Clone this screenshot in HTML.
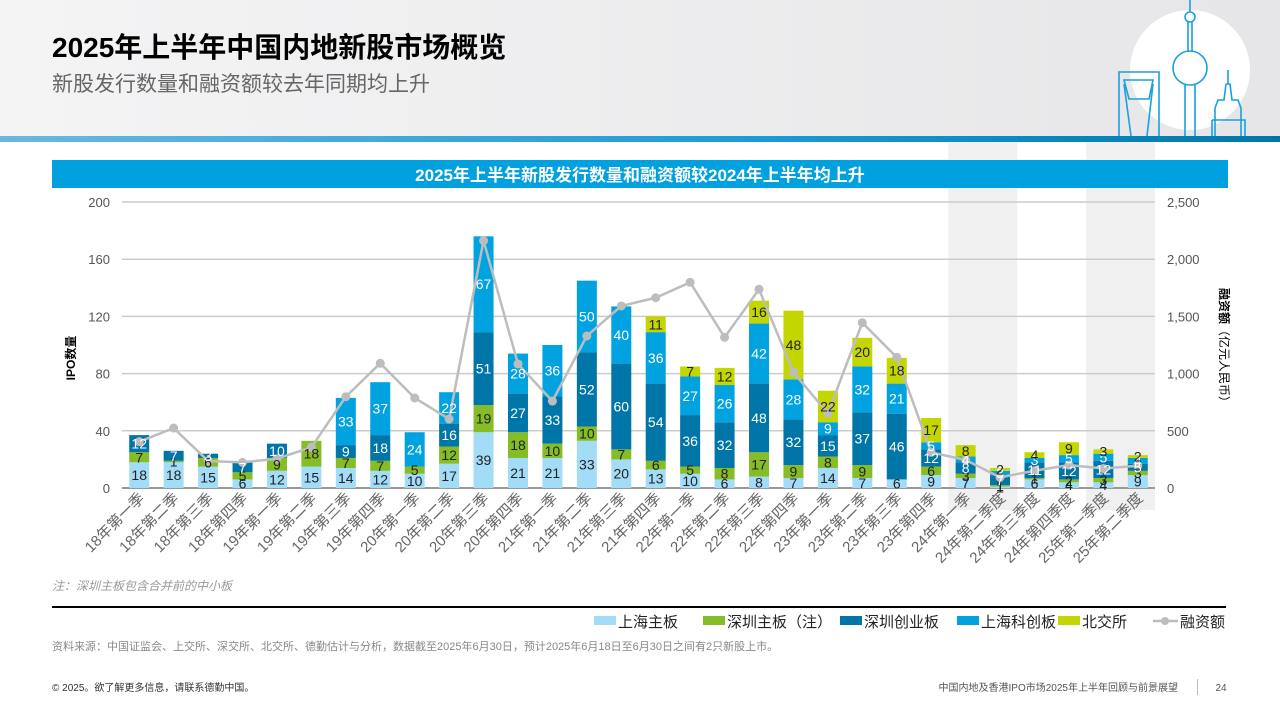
<!DOCTYPE html>
<html><head><meta charset="utf-8">
<style>
body{margin:0;width:1280px;height:720px;overflow:hidden;background:#fff;font-family:"Liberation Sans","Noto Sans CJK SC",sans-serif;}
svg text{font-family:"Liberation Sans","Noto Sans CJK SC",sans-serif;}
</style></head>
<body>
<svg id="c" width="1280" height="720" viewBox="0 0 1280 720" xmlns="http://www.w3.org/2000/svg">
<defs>
<linearGradient id="hdr" x1="0" x2="1"><stop offset="0" stop-color="#f4f4f5"/><stop offset="1" stop-color="#e6e6e8"/></linearGradient>
<linearGradient id="bl" x1="0" x2="1"><stop offset="0" stop-color="#6cb7e0"/><stop offset="0.6" stop-color="#1a9ad6"/><stop offset="1" stop-color="#0077aa"/></linearGradient>
</defs>
<rect x="0" y="0" width="1280" height="136" fill="url(#hdr)"/>
<circle cx="1190" cy="70" r="60" fill="#fff"/>
<g stroke="#1aa0dc" stroke-width="1.6" fill="none">
<path d="M1119 136 V72 H1159 V136 M1124 80 H1153 L1149 99 H1129 Z M1124 84 L1131 136 M1153 84 L1147 136"/>
<circle cx="1190" cy="17" r="5"/><line x1="1190" y1="0" x2="1190" y2="12"/><line x1="1188" y1="22" x2="1188" y2="52"/><line x1="1192" y1="22" x2="1192" y2="52"/>
<circle cx="1190" cy="68" r="17"/><path d="M1185 85 V136 M1195 85 V136"/>
<path d="M1228 70 V84 M1226 84 H1230 L1232 100 H1238 L1241 108 V136 M1226 84 L1224 100 H1218 L1215 108 V136 M1212 120 H1245 V136 M1212 120 V136"/>
</g>
<rect x="0" y="136" width="1280" height="6" fill="url(#bl)"/>
<text x="52" y="57" font-size="28" font-weight="bold" fill="#000">2025年上半年中国内地新股市场概览</text>
<text x="52" y="91" font-size="21" fill="#666">新股发行数量和融资额较去年同期均上升</text>
<g id="bands"></g>
<rect x="52" y="160" width="1176" height="28" fill="#00a1de"/>
<text x="640" y="181" font-size="17" font-weight="bold" fill="#fff" text-anchor="middle">2025年上半年新股发行数量和融资额较2024年上半年均上升</text>
<g id="grid"></g>
<g id="bars"></g>
<g id="line"></g>
<g id="labels"></g>
<text transform="translate(75,358) rotate(-90)" font-size="12" font-weight="bold" fill="#000" text-anchor="middle">IPO数量</text>
<text transform="translate(1220,348) rotate(90)" font-size="12" fill="#000" text-anchor="middle"><tspan font-weight="bold">融资额</tspan>（亿元人民币）</text>
<text x="52" y="590" font-size="12" font-style="italic" fill="#999">注：深圳主板包含合并前的中小板</text>
<rect x="52" y="606" width="1174" height="2" fill="#000"/>
<g id="legend" font-size="15" fill="#222"></g>
<text x="52" y="650" font-size="11" fill="#888">资料来源：中国证监会、上交所、深交所、北交所、德勤估计与分析，数据截至2025年6月30日，预计2025年6月18日至6月30日之间有2只新股上市。</text>
<text x="52" y="691" font-size="10" fill="#333">© 2025。欲了解更多信息，请联系德勤中国。</text>
<text x="1178" y="691" font-size="10" fill="#555" text-anchor="end">中国内地及香港IPO市场2025年上半年回顾与前景展望</text>
<rect x="1197" y="679" width="1" height="16" fill="#bbb"/>
<text x="1221" y="691" font-size="10" fill="#555" text-anchor="middle">24</text>
</svg>
<script>
const categories=["18年第一季","18年第二季","18年第三季","18年第四季","19年第一季","19年第二季","19年第三季","19年第四季","20年第一季","20年第二季","20年第三季","20年第四季","21年第一季","21年第二季","21年第三季","21年第四季","22年第一季","22年第二季","22年第三季","22年第四季","23年第一季","23年第二季","23年第三季","23年第四季","24年第一季","24年第二季度","24年第三季度","24年第四季度","25年第一季度","25年第二季度"];
const shMain=[18,18,15,6,12,15,14,12,10,17,39,21,21,33,20,13,10,6,8,7,14,7,6,9,7,1,6,4,4,9];
const szMain=[7,1,6,5,9,18,7,7,5,12,19,18,10,10,7,6,5,8,17,9,8,9,0,6,3,1,1,2,3,3];
const chiNext=[12,7,3,7,10,0,9,18,0,16,51,27,33,52,60,54,36,32,48,32,15,37,46,12,8,7,11,12,12,5];
const star=[0,0,0,0,0,0,33,37,24,22,67,28,36,50,40,36,27,26,42,28,9,32,21,5,4,3,3,5,5,4];
const bse=[0,0,0,0,0,0,0,0,0,0,0,0,0,0,0,11,7,12,16,48,22,20,18,17,8,2,4,9,3,2];
const proceeds=[405,524,236,224,256,356,798,1090,787,603,2162,1084,760,1329,1591,1663,1798,1317,1737,1011,653,1445,1142,312,245,93,151,201,170,195];
const leftTicks=[0,40,80,120,160,200];
const rightTicks=["0","500","1,000","1,500","2,000","2,500"];
const shadedIdx=[24,25,28,29];

const NS="http://www.w3.org/2000/svg";
const X0=122,X1=1155,Y0=488,Y1=202,n=categories.length,cw=(X1-X0)/n,bw=20;
const xc=i=>X0+cw*(i+0.5);
const yL=v=>Y0-(v/200)*(Y0-Y1);
const yR=v=>Y0-(v/2500)*(Y0-Y1);
function mk(tag,attrs,parent,txt){const e=document.createElementNS(NS,tag);for(const k in attrs)e.setAttribute(k,attrs[k]);if(txt!==undefined)e.textContent=txt;parent.appendChild(e);return e;}
const bands=document.getElementById('bands'),grid=document.getElementById('grid'),bars=document.getElementById('bars'),line=document.getElementById('line'),labels=document.getElementById('labels'),legend=document.getElementById('legend');
shadedIdx.forEach(i=>{const r=mk('rect',{x:X0+cw*i,y:142,width:cw,height:368,fill:'#f0f0f0'},bands);

});
leftTicks.forEach((v,k)=>{
 const l=mk('line',{x1:X0,x2:X1,y1:yL(v),y2:yL(v),stroke:v===0?'#999':'#ccc','stroke-width':v===0?2:1.5},grid);
 
 
 const t=mk('text',{x:110,y:yL(v)+5,'font-size':13,fill:'#555','text-anchor':'end'},grid,String(v));
 
 
 const t2=mk('text',{x:1167,y:yL(v)+5,'font-size':13,fill:'#555'},grid,rightTicks[k]);
 
 
});
const series=[[shMain,'#a3dcf7','#222','上海主板'],[szMain,'#86bc25','#222','深圳主板（注）'],[chiNext,'#0076a8','#fff','深圳创业板'],[star,'#00a3e0','#fff','上海科创板'],[bse,'#c4d600','#222','北交所']];
categories.forEach((c,i)=>{
 let acc=0;
 series.forEach(([arr,col,tc])=>{
  const v=arr[i];if(v<=0)return;
  const yt=yL(acc+v),yb=yL(acc);
  const r=mk('rect',{x:xc(i)-bw/2,y:yt,width:bw,height:yb-yt,fill:col},bars);
  
  
  const t=mk('text',{x:xc(i),y:(yt+yb)/2+5,'font-size':14,fill:tc,'text-anchor':'middle'},labels,String(v));
  
  
  acc+=v;
 });
 const xl=mk('text',{transform:`translate(${xc(i)+6},${499}) rotate(-45)`,'font-size':15,fill:'#666','text-anchor':'end'},grid,c);
 
 
});
const pl=mk('polyline',{points:proceeds.map((v,i)=>xc(i)+','+yR(v)).join(' '),fill:'none',stroke:'#bdbdbd','stroke-width':2.5},line);


proceeds.forEach((v,i)=>{const p=mk('circle',{cx:xc(i),cy:yR(v),r:4.5,fill:'#bdbdbd'},line);

});
const legX=[594,703,840,957,1058];
series.forEach(([a,col,tc,name],k)=>{
 const g=mk('g',{},legend);
 
 
 mk('rect',{x:legX[k],y:616,width:22,height:9,fill:col},g);
 mk('text',{x:legX[k]+24,y:627,'font-size':15,fill:'#222'},g,name);
});
const g=mk('g',{},legend);


mk('line',{x1:1153,x2:1178,y1:621,y2:621,stroke:'#bdbdbd','stroke-width':2.5},g);
mk('circle',{cx:1165,cy:621,r:4,fill:'#bdbdbd'},g);
mk('text',{x:1180,y:627,'font-size':15,fill:'#222'},g,'融资额');
</script>
</body></html>
